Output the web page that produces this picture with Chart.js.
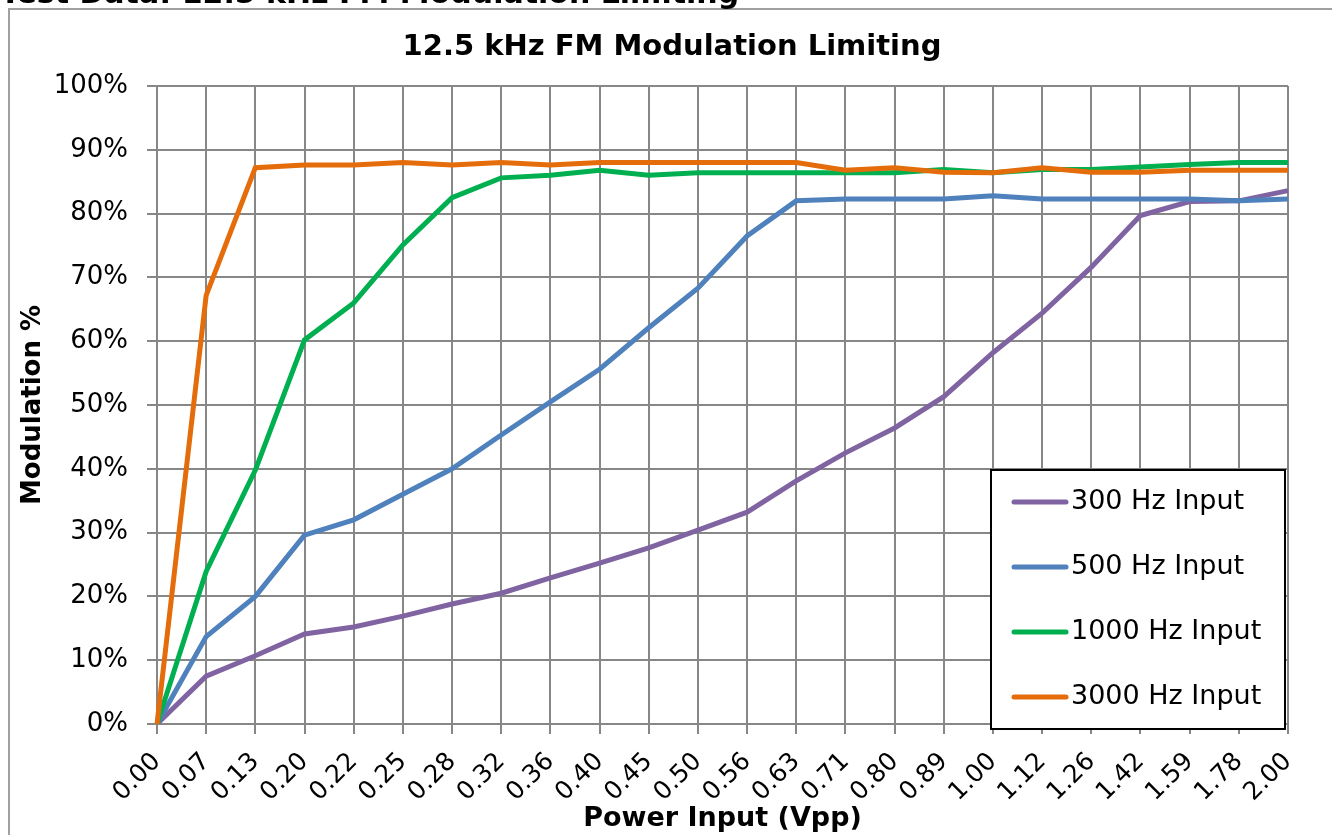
<!DOCTYPE html>
<html>
<head>
<meta charset="utf-8">
<script src="https://cdn.jsdelivr.net/npm/chart.js@4/dist/chart.umd.min.js"></script>
<style>
  html, body { margin: 0; padding: 0; background: #fff; overflow: hidden; }
</style>
</head>
<body>
<canvas id="myChart" width="1332" height="835"></canvas>
<script>
// Power input steps (Vpp), x axis categories
const powerInput = ['0.00', '0.07', '0.13', '0.20', '0.22', '0.25', '0.28', '0.32', '0.36', '0.40', '0.45', '0.50',
  '0.56', '0.63', '0.71', '0.80', '0.89', '1.00', '1.12', '1.26', '1.42', '1.59', '1.78', '2.00'];

// Modulation % per input frequency
const hz300 = [0, 7.5, 10.7, 14.1, 15.2, 16.9, 18.8, 20.5, 22.9, 25.2, 27.6, 30.4,
  33.2, 38.1, 42.5, 46.4, 51.3, 58.2, 64.4, 71.6, 79.7, 81.9, 82.0, 83.6];
const hz500 = [0, 13.7, 20.0, 29.6, 32.0, 36.0, 40.0, 45.3, 50.5, 55.6, 62.1, 68.3,
  76.5, 82.0, 82.3, 82.3, 82.3, 82.8, 82.3, 82.3, 82.3, 82.3, 82.0, 82.3];
const hz1000 = [0, 23.9, 39.8, 60.2, 66.0, 75.1, 82.5, 85.6, 86.0, 86.8, 86.0, 86.4,
  86.4, 86.4, 86.4, 86.4, 86.9, 86.4, 86.9, 86.9, 87.3, 87.7, 88.0, 88.0];
const hz3000 = [0, 67.2, 87.2, 87.6, 87.6, 88.0, 87.6, 88.0, 87.6, 88.0, 88.0, 88.0,
  88.0, 88.0, 86.8, 87.2, 86.5, 86.4, 87.2, 86.5, 86.5, 86.8, 86.8, 86.8];

const seriesNames = ['300 Hz Input', '500 Hz Input', '1000 Hz Input', '3000 Hz Input'];
const yTicks = [0, 10, 20, 30, 40, 50, 60, 70, 80, 90, 100];

const gridGrey = '#878787';
const fontFam = '"DejaVu Sans", Verdana, sans-serif';

// Titles, outer frame and the boxed legend are drawn by hand
const decor = {
  id: 'decor',
  beforeDraw(chart) {
    const c = chart.ctx;
    c.save();
    c.fillStyle = '#fff';
    c.fillRect(0, 0, chart.width, chart.height);
    c.strokeStyle = '#a0a0a0';
    c.lineWidth = 2;
    c.beginPath();
    c.moveTo(9, chart.height + 2);
    c.lineTo(9, 9);
    c.lineTo(chart.width + 2, 9);
    c.stroke();

    c.fillStyle = '#000';
    c.textBaseline = 'alphabetic';
    c.textAlign = 'left';
    c.font = 'bold 30px ' + fontFam;
    c.fillText('Test Data: 12.5 kHz FM Modulation Limiting', 0, 3);

    c.textAlign = 'center';
    c.textBaseline = 'middle';
    c.font = 'bold 29px ' + fontFam;
    c.fillText('12.5 kHz FM Modulation Limiting', 672, 47);
    c.restore();
  },
  afterDraw(chart) {
    const c = chart.ctx;
    c.save();
    c.fillStyle = '#fff';
    c.fillRect(991, 470, 294, 259);
    c.strokeStyle = '#000';
    c.lineWidth = 2;
    c.strokeRect(991, 470, 294, 259);
    c.font = '27px ' + fontFam;
    c.textBaseline = 'middle';
    c.textAlign = 'left';
    chart.data.datasets.forEach((ds, i) => {
      const y = 502 + i * 65;
      c.strokeStyle = ds.borderColor;
      c.lineWidth = 5;
      c.lineCap = 'round';
      c.beginPath();
      c.moveTo(1014, y);
      c.lineTo(1066, y);
      c.stroke();
      c.fillStyle = '#000';
      c.fillText(ds.label, 1071, y);
    });
    c.restore();
  }
};

const ctx = document.getElementById('myChart');

new Chart(ctx, {
  type: 'line',
  data: {
    labels: powerInput,
    datasets: [
      { label: seriesNames[0], data: hz300, borderColor: '#8064A2', order: 4 },
      { label: seriesNames[1], data: hz500, borderColor: '#4F81BD', order: 3 },
      { label: seriesNames[2], data: hz1000, borderColor: '#00B050', order: 2 },
      { label: seriesNames[3], data: hz3000, borderColor: '#E46C0A', order: 1 }
    ]
  },
  options: {
    responsive: false,
    animation: false,
    devicePixelRatio: 1,
    elements: {
      line: { borderWidth: 5, tension: 0, fill: false },
      point: { radius: 0, hoverRadius: 0 }
    },
    layout: { padding: { left: 0, top: 86, right: 44, bottom: 0 } },
    plugins: {
      legend: { display: false },
      title: { display: false },
      tooltip: { enabled: false }
    },
    scales: {
      x: {
        offset: false,
        afterFit(scale) { scale.height = 111; },
        grid: { color: gridGrey, lineWidth: 2, tickLength: 10 },
        border: { color: gridGrey, width: 2 },
        ticks: {
          color: '#000',
          font: { family: fontFam, size: 25 },
          minRotation: 45,
          maxRotation: 45,
          autoSkip: false,
          padding: 13
        },
        title: {
          display: true,
          text: 'Power Input (Vpp)',
          color: '#000',
          font: { family: fontFam, size: 27, weight: 'bold' },
          padding: { top: 0, bottom: 0 }
        }
      },
      y: {
        min: 0,
        max: 100,
        afterBuildTicks(scale) { scale.ticks = yTicks.map(v => ({ value: v })); },
        afterFit(scale) { scale.width = 157; },
        grid: { color: gridGrey, lineWidth: 2, tickLength: 10 },
        border: { color: gridGrey, width: 2 },
        ticks: {
          color: '#000',
          font: { family: fontFam, size: 26 },
          padding: 19,
          callback: v => v + '%'
        },
        title: {
          display: true,
          text: 'Modulation %',
          color: '#000',
          font: { family: fontFam, size: 26, weight: 'bold' },
          padding: { top: 18, bottom: 0 }
        }
      }
    }
  },
  plugins: [decor]
});
</script>
</body>
</html>
